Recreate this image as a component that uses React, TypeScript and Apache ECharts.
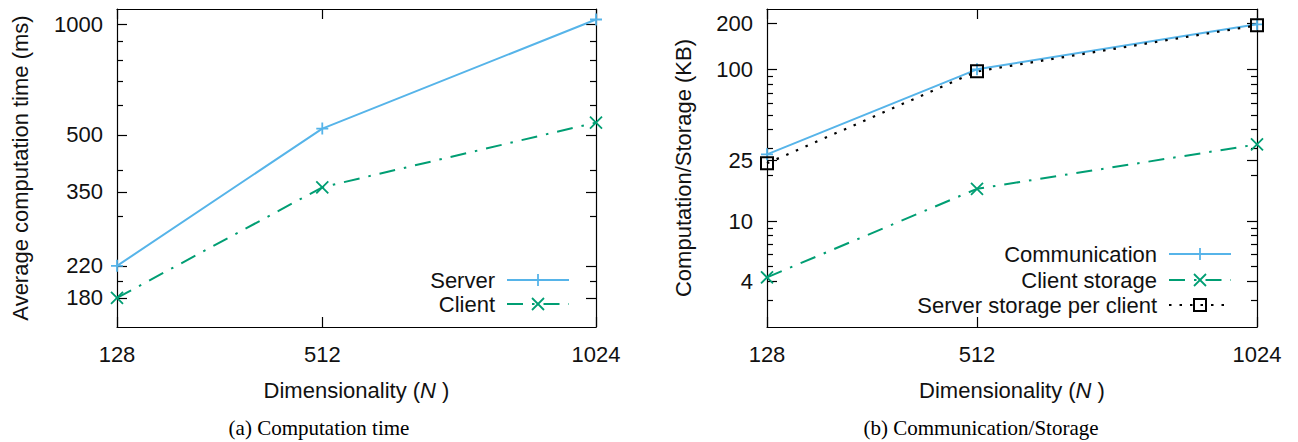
import React, { useEffect, useRef } from 'react';
import * as echarts from 'echarts';

// ---------- data ----------
const dims = [128, 512, 1024];
const serverTime = [220, 520, 1030];
const clientTime = [180, 360, 540];
const communication = [27.5, 100, 198];
const clientStorage = [4.25, 16.3, 32];
const serverStoragePerClient = [24, 97, 195];

const xTicks = [128, 512, 1024];
const leftMajorTicks = [180, 220, 350, 500, 1000];
const leftMinorTicks = [200, 300, 400, 600, 700, 800, 900];
const rightMajorTicks = [4, 10, 25, 100, 200];
const rightMinorTicks = [3, 5, 6, 7, 8, 9, 20, 30, 40, 50, 60, 70, 80, 90];

// ---------- style ----------
const FONT = '"Liberation Sans", Arial, Helvetica, sans-serif';
const SERIF = '"Liberation Serif", "Times New Roman", serif';
const TEXT = '#111';
const BLUE = '#56B4E9';
const GREEN = '#009E73';
const BLACK = '#000';
const DASHDOT = [16, 9, 2.5, 9];
const DOTTED = [2.5, 8];
const FS = 22;
const plusSymbol = 'path://M5,0L5,10M0,5L10,5';
const crossSymbol = 'path://M0,0L10,10M10,0L0,10';
const axisLineStyle = { color: '#000', width: 1.2 };
const plainNumber = (v: number) => String(Math.round(v * 1000) / 1000);

function pairs(xs: number[], ys: number[]) {
  return xs.map((x, i) => [x, ys[i]]);
}

function makeYAxes(gridIndex: number, min: number, max: number, major: number[], minor: number[], name: string, nameGap: number) {
  const base = {
    type: 'log',
    logBase: 10,
    gridIndex,
    min,
    max,
    splitLine: { show: false },
    minorTick: { show: false },
  };
  return [
    {
      ...base,
      position: 'left',
      name,
      nameLocation: 'middle',
      nameGap,
      nameTextStyle: { fontSize: FS, fontFamily: FONT, color: TEXT },
      axisLine: { show: true, onZero: false, lineStyle: axisLineStyle },
      axisTick: { show: true, inside: true, length: 10, customValues: major, lineStyle: axisLineStyle },
      axisLabel: { show: true, customValues: major, margin: 14, fontSize: FS, fontFamily: FONT, color: TEXT, formatter: plainNumber },
    },
    {
      ...base,
      position: 'left',
      axisLine: { show: false, onZero: false },
      axisTick: { show: true, inside: true, length: 6, customValues: minor, lineStyle: axisLineStyle },
      axisLabel: { show: false },
    },
    {
      ...base,
      position: 'right',
      axisLine: { show: true, onZero: false, lineStyle: axisLineStyle },
      axisTick: { show: true, inside: true, length: 10, customValues: major, lineStyle: axisLineStyle },
      axisLabel: { show: false },
    },
    {
      ...base,
      position: 'right',
      axisLine: { show: false, onZero: false },
      axisTick: { show: true, inside: true, length: 6, customValues: minor, lineStyle: axisLineStyle },
      axisLabel: { show: false },
    },
  ];
}

function makeXAxes(gridIndex: number) {
  const base = {
    type: 'value',
    gridIndex,
    min: 128,
    max: 1024,
    splitLine: { show: false },
  };
  return [
    {
      ...base,
      position: 'bottom',
      name: 'Dimensionality ({i|N} )',
      nameLocation: 'middle',
      nameGap: 52,
      nameTextStyle: {
        fontSize: FS,
        fontFamily: FONT,
        color: TEXT,
        rich: { i: { fontStyle: 'italic', fontSize: FS, fontFamily: FONT, color: TEXT } },
      },
      axisLine: { show: true, onZero: false, lineStyle: axisLineStyle },
      axisTick: { show: true, inside: true, length: 10, customValues: xTicks, lineStyle: axisLineStyle },
      axisLabel: { show: true, customValues: xTicks, margin: 16, fontSize: FS, fontFamily: FONT, color: TEXT, formatter: plainNumber },
    },
    {
      ...base,
      position: 'top',
      axisLine: { show: true, onZero: false, lineStyle: axisLineStyle },
      axisTick: { show: true, inside: true, length: 10, customValues: xTicks, lineStyle: axisLineStyle },
      axisLabel: { show: false },
    },
  ];
}

function markerEls(kind: string, cx: number, cy: number, color: string) {
  const s = 6;
  if (kind === 'plus') {
    return [
      { type: 'line', shape: { x1: cx - s, y1: cy, x2: cx + s, y2: cy }, style: { stroke: color, lineWidth: 1.8 } },
      { type: 'line', shape: { x1: cx, y1: cy - s, x2: cx, y2: cy + s }, style: { stroke: color, lineWidth: 1.8 } },
    ];
  }
  if (kind === 'cross') {
    return [
      { type: 'line', shape: { x1: cx - s, y1: cy - s, x2: cx + s, y2: cy + s }, style: { stroke: color, lineWidth: 1.8 } },
      { type: 'line', shape: { x1: cx + s, y1: cy - s, x2: cx - s, y2: cy + s }, style: { stroke: color, lineWidth: 1.8 } },
    ];
  }
  return [
    { type: 'rect', shape: { x: cx - s, y: cy - s, width: 2 * s, height: 2 * s }, style: { stroke: color, fill: 'none', lineWidth: 2 } },
  ];
}

function legendRow(textRight: number, y: number, label: string, color: string, dash: number[] | null, kind: string) {
  const x1 = textRight + 12;
  const x2 = textRight + 74;
  const cx = (x1 + x2) / 2;
  return [
    {
      type: 'text',
      x: textRight,
      y,
      style: {
        text: label,
        align: 'right',
        verticalAlign: 'middle',
        textAlign: 'right',
        textVerticalAlign: 'middle',
        fontSize: FS,
        fontFamily: FONT,
        fill: TEXT,
      },
    },
    {
      type: 'line',
      shape: { x1, y1: y, x2, y2: y },
      style: dash ? { stroke: color, lineWidth: 2, lineDash: dash } : { stroke: color, lineWidth: 2 },
    },
    ...markerEls(kind, cx, y, color),
  ];
}

function caption(x: number, y: number, text: string) {
  return {
    type: 'text',
    x,
    y,
    style: {
      text,
      align: 'center',
      verticalAlign: 'middle',
      textAlign: 'center',
      textVerticalAlign: 'middle',
      fontSize: 21,
      fontFamily: SERIF,
      fill: '#000',
    },
  };
}

export default function App() {
  const ref = useRef<HTMLDivElement>(null);

  useEffect(() => {
    if (!ref.current) return;
    const chart = echarts.init(ref.current, undefined, { renderer: 'svg' });

    const option: any = {
      animation: false,
      backgroundColor: '#fff',
      grid: [
        { left: 117, top: 9, width: 479, height: 318 },
        { left: 767, top: 9, width: 490, height: 318 },
      ],
      xAxis: [...makeXAxes(0), ...makeXAxes(1)],
      yAxis: [
        ...makeYAxes(0, 150, 1100, leftMajorTicks, leftMinorTicks, 'Average computation time (ms)', 86),
        ...makeYAxes(1, 2, 250, rightMajorTicks, rightMinorTicks, 'Computation/Storage (KB)', 73),
      ],
      series: [
        {
          name: 'Server',
          type: 'line',
          xAxisIndex: 0,
          yAxisIndex: 0,
          data: pairs(dims, serverTime),
          symbol: plusSymbol,
          symbolSize: 12,
          lineStyle: { color: BLUE, width: 2 },
          itemStyle: { color: BLUE, borderColor: BLUE, borderWidth: 1.8 },
        },
        {
          name: 'Client',
          type: 'line',
          xAxisIndex: 0,
          yAxisIndex: 0,
          data: pairs(dims, clientTime),
          symbol: crossSymbol,
          symbolSize: 12,
          lineStyle: { color: GREEN, width: 2, type: DASHDOT },
          itemStyle: { color: GREEN, borderColor: GREEN, borderWidth: 1.8 },
        },
        {
          name: 'Communication',
          type: 'line',
          xAxisIndex: 2,
          yAxisIndex: 4,
          data: pairs(dims, communication),
          symbol: plusSymbol,
          symbolSize: 12,
          lineStyle: { color: BLUE, width: 2 },
          itemStyle: { color: BLUE, borderColor: BLUE, borderWidth: 1.8 },
        },
        {
          name: 'Client storage',
          type: 'line',
          xAxisIndex: 2,
          yAxisIndex: 4,
          data: pairs(dims, clientStorage),
          symbol: crossSymbol,
          symbolSize: 12,
          lineStyle: { color: GREEN, width: 2, type: DASHDOT },
          itemStyle: { color: GREEN, borderColor: GREEN, borderWidth: 1.8 },
        },
        {
          name: 'Server storage per client',
          type: 'line',
          xAxisIndex: 2,
          yAxisIndex: 4,
          data: pairs(dims, serverStoragePerClient),
          symbol: 'rect',
          symbolSize: 12,
          lineStyle: { color: BLACK, width: 2.2, type: DOTTED },
          itemStyle: { color: 'rgba(0,0,0,0)', borderColor: BLACK, borderWidth: 2 },
        },
      ],
      graphic: [
        ...legendRow(495, 280, 'Server', BLUE, null, 'plus'),
        ...legendRow(495, 304, 'Client', GREEN, DASHDOT, 'cross'),
        ...legendRow(1157, 254, 'Communication', BLUE, null, 'plus'),
        ...legendRow(1157, 280, 'Client storage', GREEN, DASHDOT, 'cross'),
        ...legendRow(1157, 305, 'Server storage per client', BLACK, DOTTED, 'square'),
        caption(319, 428, '(a) Computation time'),
        caption(981, 428, '(b) Communication/Storage'),
      ],
    };

    chart.setOption(option);
    return () => chart.dispose();
  }, []);

  return (
    <div
      ref={ref}
      style={{ position: 'fixed', left: 0, top: 0, width: 1298, height: 442, background: '#fff' }}
    />
  );
}
